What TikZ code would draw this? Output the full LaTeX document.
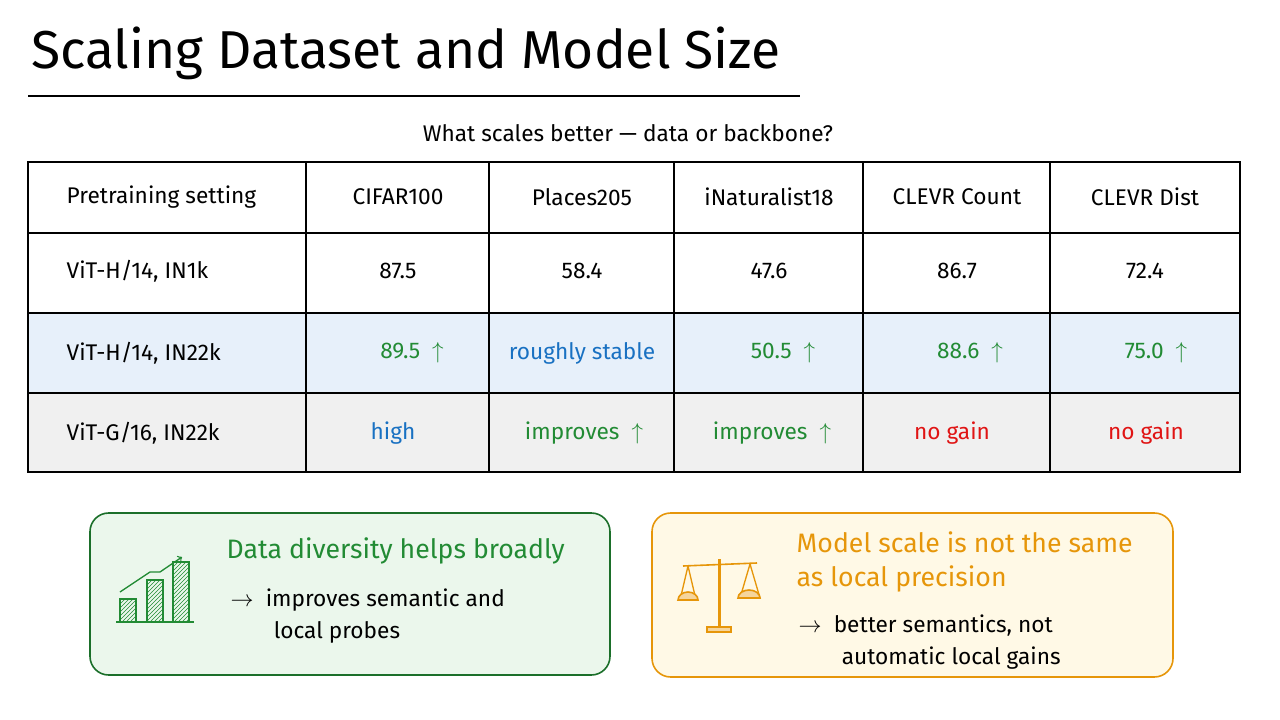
\documentclass[tikz,border=0pt]{standalone}
\usepackage{fontspec}
\setmainfont{Fira Sans}
\usepackage{tikz}
\usetikzlibrary{patterns}
\definecolor{gtxt}{RGB}{34,139,52}
\definecolor{btxt}{RGB}{25,113,194}
\definecolor{rtxt}{RGB}{224,20,20}
\definecolor{otxt}{RGB}{230,150,10}
\definecolor{gfill}{RGB}{235,247,236}
\definecolor{ofill}{RGB}{255,249,230}
\definecolor{bfill}{RGB}{231,240,250}
\definecolor{lgray}{RGB}{240,240,240}
\tikzset{
  cell/.style={anchor=center,font=\fontsize{17}{19}\selectfont},
  boxtitle/.style={anchor=west,font=\fontsize{20}{25}\selectfont,align=left},
  boxtext/.style={anchor=north west,font=\fontsize{17}{24}\selectfont,align=left},
}
\begin{document}
\begin{tikzpicture}[x=0.75pt,y=0.75pt,yscale=-1,xscale=1]
\useasboundingbox (0,0) rectangle (1280,720);

% Title
\node [anchor=west,inner sep=0.75pt,font=\fontsize{40}{46}\selectfont\mdseries] (title) at (30,53) {Scaling Dataset and Model Size};
\draw [line width=1.5pt] (28,96) -- (800,96);
\node [inner sep=0.75pt,font=\fontsize{17}{19}\selectfont] (subtitle) at (628,133) {What scales better — data or backbone?};

% Table rows
\fill [bfill] (28,313) rectangle (1240,393);
\fill [lgray] (28,393) rectangle (1240,472);
\draw [line width=1pt] (28,162) rectangle (1240,472);
\foreach \y in {233,313,393} \draw [line width=0.8pt] (28,\y) -- (1240,\y);
\foreach \x in {306,489,674,863,1050} \draw [line width=0.8pt] (\x,162) -- (\x,472);

% Header
\node [cell,anchor=west] (h0) at (62,197) {Pretraining setting};
\node [cell] (h1) at (398,197) {CIFAR100};
\node [cell] (h2) at (582,197) {Places205};
\node [cell] (h3) at (769,197) {iNaturalist18};
\node [cell] (h4) at (957,197) {CLEVR Count};
\node [cell] (h5) at (1145,197) {CLEVR Dist};

% Row 1
\node [cell,anchor=west] (a0) at (62,271) {ViT-H/14, IN1k};
\node [cell] (a1) at (398,271) {87.5};
\node [cell] (a2) at (582,271) {58.4};
\node [cell] (a3) at (769,271) {47.6};
\node [cell] (a4) at (957,271) {86.7};
\node [cell] (a5) at (1145,271) {72.4};

% Row 2
\node [cell,anchor=west] (b0) at (62,353) {ViT-H/14, IN22k};
\node [cell,text=gtxt] (b1) at (412,353) {89.5 \ $\uparrow$};
\node [cell,text=btxt] (b2) at (582,353) {roughly stable};
\node [cell,text=gtxt] (b3) at (783,353) {50.5 \ $\uparrow$};
\node [cell,text=gtxt] (b4) at (970,353) {88.6 \ $\uparrow$};
\node [cell,text=gtxt] (b5) at (1156,353) {75.0 \ $\uparrow$};

% Row 3
\node [cell,anchor=west] (c0) at (62,433) {ViT-G/16, IN22k};
\node [cell,text=btxt] (c1) at (393,433) {high};
\node [cell,text=gtxt] (c2) at (584,433) {improves \ $\uparrow$};
\node [cell,text=gtxt] (c3) at (772,433) {improves \ $\uparrow$};
\node [cell,text=rtxt] (c4) at (952,433) {no gain};
\node [cell,text=rtxt] (c5) at (1146,433) {no gain};

% Green box
\draw [gtxt!80!black,line width=1.2pt,fill=gfill,rounded corners=14pt] (90,513) rectangle (610,675);
\node [boxtitle,text=gtxt] (gtitle) at (222,551) {Data diversity helps broadly};
\node [boxtext] (gtext) at (226,584) {$\rightarrow$ \ improves semantic and\\\hspace{1.9em}local probes};
% bar chart icon
\foreach \xa/\h in {120/23,147/42,173/60}
  \draw [gtxt,line width=1pt,pattern=north east lines,pattern color=gtxt] (\xa,622) rectangle ++(16,-\h);
\draw [gtxt,line width=1.2pt] (116,622) -- (194,622);
\draw [gtxt,line width=1pt,->] (120,592) -- (150,572) -- (160,572) -- (182,557);

% Orange box
\draw [otxt,line width=1.2pt,fill=ofill,rounded corners=14pt] (652,513) rectangle (1173,677);
\node [boxtitle,text=otxt] (otitle) at (792,562) {Model scale is not the same\\as local precision};
\node [boxtext] (otext) at (794,610) {$\rightarrow$ \ better semantics, not\\\hspace{1.9em}automatic local gains};
% scale icon
\fill [otxt] (717.5,559) rectangle (720.5,628);
\draw [otxt,line width=1.2pt] (683,566) -- (757,563);
\draw [otxt,line width=1.2pt,fill=otxt!40] (707,627) rectangle (731,632);
\draw [otxt,line width=1pt] (688,566) -- (680,600) (688,566) -- (696,600);
\draw [otxt,line width=1pt] (750,564) -- (740,598) (750,564) -- (760,598);
\draw [otxt,line width=1.2pt,fill=otxt!40] (678,600) arc (180:360:10 and 8) -- cycle;
\draw [otxt,line width=1.2pt,fill=otxt!40] (738,598) arc (180:360:11 and 8) -- cycle;
\end{tikzpicture}
\end{document}
